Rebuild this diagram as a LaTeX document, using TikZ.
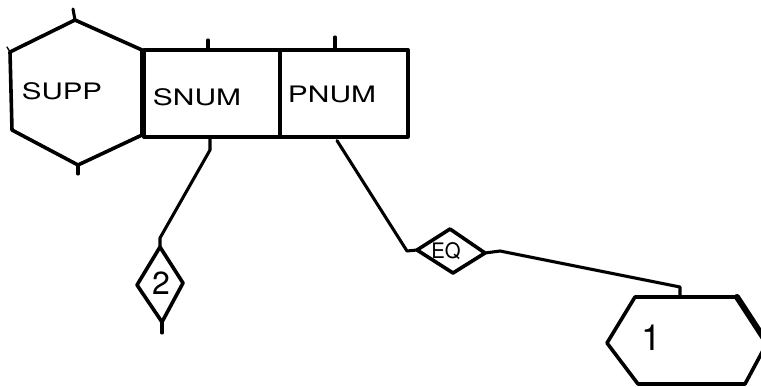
\documentclass[tikz,border=0pt]{standalone}
\usepackage{fontspec}
\setmainfont{TeX Gyre Heros}
\begin{document}
\begin{tikzpicture}[x=0.75pt,y=-0.75pt,
  line width=2.7pt, line join=round, line cap=round,
  cell/.style={draw, line width=2.7pt, anchor=north west, minimum height=65.25pt, inner sep=0pt},
  lbl/.style={font=\fontsize{17}{17}\selectfont, inner sep=0pt},
  conn/.style={line width=2.3pt}]
\useasboundingbox (0,0) rectangle (761,386);
\clip (0,0) rectangle (761,386);
% SUPP hexagon
\coordinate (h1t) at (75,20);
\coordinate (h1tr) at (142,50);
\coordinate (h1br) at (142,135);
\coordinate (h1b) at (78,165);
\coordinate (h1bl) at (12,130);
\coordinate (h1tl) at (10,52);
\draw (h1t) -- (h1tr) -- (h1br) -- (h1b) -- (h1bl) -- (h1tl) -- cycle;
\draw[conn] (h1t) -- ++(-2,-11);
\draw[conn] (h1b) -- ++(0,9);
\draw[line width=1pt] (h1tl) -- ++(-3,-5);
\node[lbl] (supp) at (62,91) {\scalebox{1.3}[1]{SUPP}};
% cells
\node[cell, minimum width=102pt] (snum) at (142,48) {};
\node[cell, minimum width=96pt] (pnum) at (278,48) {};
\node[lbl] (snumt) at (197,97) {\scalebox{1.32}[1]{SNUM}};
\node[lbl] (pnumt) at (332,94) {\scalebox{1.32}[1]{PNUM}};
\draw[conn] (snum.north west) ++(66,0) -- ++(0,-8);
\draw[conn] (pnum.north west) ++(57,0) -- ++(0,-11);
% diamond 2
\coordinate (d2t) at (160,247);
\coordinate (d2r) at (183,283);
\coordinate (d2b) at (162,322);
\coordinate (d2l) at (137,285);
\draw (d2t) -- (d2r) -- (d2b) -- (d2l) -- cycle;
\node[lbl, font=\fontsize{24}{24}\selectfont] (two) at (161,283) {2};
\coordinate (s1) at (210,150);
\coordinate (s2) at (160,238);
\draw[conn] (snum.south west) ++(68,0) -- (s1) -- (s2) -- (d2t);
\draw[conn] (d2b) -- ++(0,11);
% diamond EQ
\coordinate (eql) at (417,250);
\coordinate (eqt) at (450,229);
\coordinate (eqr) at (485,253);
\coordinate (eqb) at (453,273);
\draw (eql) -- (eqt) -- (eqr) -- (eqb) -- cycle;
\node[lbl, font=\fontsize{16}{16}\selectfont] (eq) at (446,251) {\scalebox{0.95}[1]{EQ}};
\coordinate (p1) at (407,251);
\draw[conn] (pnum.south west) ++(59,2) -- (p1) -- (eql);
% hexagon 1
\coordinate (h2tl) at (635,297);
\coordinate (h2tr) at (737,297);
\coordinate (h2r) at (767,343);
\coordinate (h2br) at (745,384);
\coordinate (h2bl) at (638,384);
\coordinate (h2l) at (607,343);
\draw (h2tl) -- (h2tr) -- (h2r) -- (h2br) -- (h2bl) -- (h2l) -- cycle;
\draw[line width=4.5pt] (h2tr) -- (h2r);
\node[lbl, font=\fontsize{27}{27}\selectfont] (one) at (652,338) {1};
\coordinate (e1) at (500,251);
\coordinate (e2) at (680,287);
\draw[conn] (eqr) -- (e1) -- (e2) -- (680,297);
\end{tikzpicture}
\end{document}
